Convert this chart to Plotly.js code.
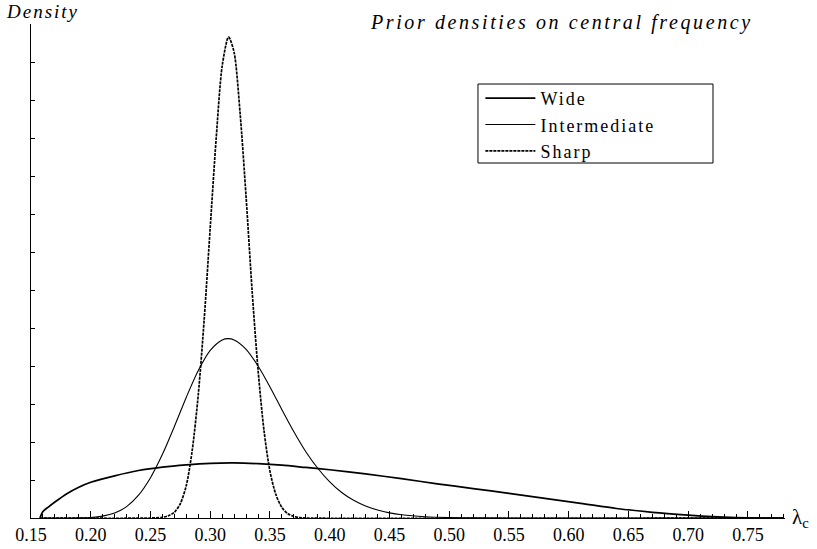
<!DOCTYPE html>
<html><head><meta charset="utf-8">
<script src="https://cdn.plot.ly/plotly-3.0.1.min.js"></script>
<style>
html,body{margin:0;padding:0;background:#fff;}
#chart{width:817px;height:549px;}
.gtitle{letter-spacing:2.6px;}
g.annotation[data-index="0"] text{letter-spacing:2px;}
.legendtext{letter-spacing:2px;}
</style>
</head><body>
<div id="chart"></div>
<script>
// Wide prior
const wideX = [0.1575,0.16,0.165,0.17,0.18,0.19,0.20,0.22,0.24,0.26,0.28,0.30,0.32,0.34,0.36,0.38,0.40,0.43,0.46,0.49,0.52,0.55,0.58,0.61,0.64,0.67,0.70,0.72,0.74,0.76,0.78];
const wideY = [0,0.34,0.60,0.84,1.28,1.62,1.88,2.22,2.50,2.68,2.80,2.88,2.90,2.86,2.78,2.66,2.54,2.32,2.07,1.80,1.55,1.30,1.03,0.77,0.50,0.30,0.15,0.07,0.02,0,0];
// Intermediate prior
const interX = [0.1575,0.18,0.19,0.20,0.21,0.22,0.23,0.24,0.25,0.26,0.27,0.28,0.29,0.30,0.31,0.315,0.32,0.33,0.34,0.35,0.36,0.37,0.38,0.39,0.40,0.41,0.42,0.43,0.44,0.45,0.46,0.48,0.50,0.52,0.55,0.78];
const interY = [0,0,0.01,0.03,0.10,0.26,0.60,1.20,2.12,3.35,4.82,6.36,7.76,8.82,9.37,9.44,9.37,8.88,8.00,6.90,5.70,4.54,3.49,2.62,1.90,1.34,0.93,0.63,0.42,0.27,0.17,0.065,0.024,0.008,0.001,0];
// Sharp prior
const sharpX = [0.1575,0.25,0.26,0.265,0.27,0.275,0.28,0.285,0.29,0.295,0.30,0.305,0.31,0.315,0.3157,0.32,0.325,0.33,0.335,0.34,0.345,0.35,0.355,0.36,0.365,0.37,0.375,0.38,0.78];
const sharpY = [0,0,0.04,0.12,0.30,0.76,1.72,3.60,6.50,10.5,15.3,20.0,23.8,25.3,25.3,24.5,21.3,16.9,12.0,7.8,4.6,2.45,1.22,0.55,0.22,0.08,0.02,0,0];

const seriesNames = ['Wide','Intermediate','Sharp'];
const tickVals = [0.15,0.20,0.25,0.30,0.35,0.40,0.45,0.50,0.55,0.60,0.65,0.70,0.75];
const tickText = ['0.15','0.20','0.25','0.30','0.35','0.40','0.45','0.50','0.55','0.60','0.65','0.70','0.75'];

const serif = '"Liberation Serif", serif';

const traces = [
  {x: wideX, y: wideY, name: seriesNames[0], type: 'scatter', mode: 'lines',
   line: {color: '#000', width: 1.7, shape: 'spline', smoothing: 0.8}},
  {x: interX, y: interY, name: seriesNames[1], type: 'scatter', mode: 'lines',
   line: {color: '#000', width: 1.1, shape: 'spline', smoothing: 0.8}},
  {x: sharpX, y: sharpY, name: seriesNames[2], type: 'scatter', mode: 'lines',
   line: {color: '#000', width: 1.7, dash: '3px,1px', shape: 'spline', smoothing: 0.8}}
];

const layout = {
  width: 817, height: 549,
  margin: {l: 31, r: 32, t: 24, b: 31, pad: 0},
  paper_bgcolor: '#fff', plot_bgcolor: '#fff',
  font: {family: serif, color: '#000', size: 18},
  title: {text: '<i>Prior densities on central frequency</i>', xref: 'container', yref: 'container',
          x: 371/817, xanchor: 'left', y: 1 - 22/549, yanchor: 'middle',
          font: {family: serif, size: 20, color: '#000'}},
  showlegend: true,
  legend: {x: 0.596, y: 0.8868, xanchor: 'left', yanchor: 'top', bgcolor: 'rgba(0,0,0,0)',
           borderwidth: 0, font: {family: serif, size: 18, color: '#000'}, itemwidth: 50, tracegroupgap: 0},
  xaxis: {range: [0.15, 0.781], tickvals: tickVals, ticktext: tickText, ticks: 'inside', ticklen: 7,
          tickwidth: 1, tickcolor: '#000', showline: true, linecolor: '#000', linewidth: 1,
          showgrid: false, zeroline: false, tickfont: {family: serif, size: 18, color: '#000'},
          minor: {dtick: 0.01, tick0: 0.15, ticks: 'inside', ticklen: 4, tickcolor: '#000', tickwidth: 1, showgrid: false}},
  yaxis: {range: [0, 26], dtick: 2, tick0: 0, ticks: 'inside', ticklen: 4, tickwidth: 1, tickcolor: '#000',
          showticklabels: false, showline: true, linecolor: '#000', linewidth: 1,
          showgrid: false, zeroline: false},
  shapes: [{type: 'rect', xref: 'paper', yref: 'paper', x0: 0.5928, x1: 0.9045, y0: 0.7186, y1: 0.8785,
            line: {color: '#000', width: 1}, fillcolor: 'rgba(0,0,0,0)', layer: 'above'}],
  annotations: [
    {text: '<i>Density</i>', xref: 'paper', yref: 'paper', x: (8 - 31) / 754, y: 1, xanchor: 'left', yanchor: 'bottom',
     xshift: 3, showarrow: false, font: {family: serif, size: 19, color: '#000'}},
    {text: 'λ<sub>c</sub>', xref: 'paper', yref: 'paper', x: 1, y: 0, xanchor: 'left', yanchor: 'middle', xshift: 5,
     showarrow: false, font: {family: serif, size: 21, color: '#000'}}
  ]
};

Plotly.newPlot('chart', traces, layout, {displayModeBar: false, staticPlot: true});
</script>
</body></html>
